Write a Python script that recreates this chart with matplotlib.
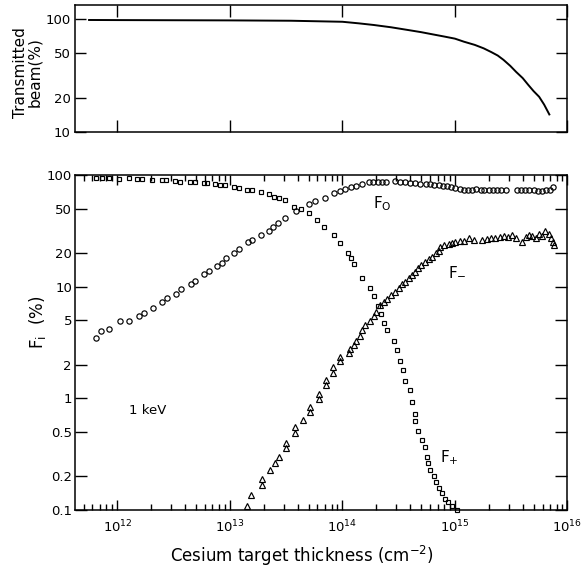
import matplotlib
matplotlib.use("Agg")
import matplotlib.pyplot as plt
from matplotlib import font_manager
from matplotlib.ticker import FixedLocator, FixedFormatter, NullFormatter, NullLocator

# ---------------------------------------------------------------- data
# Transmitted beam (%) versus cesium target thickness (cm^-2)
trans_thickness = [5.6e11, 1e12, 1e13, 3.5e13, 1e14, 1.4e14, 1.9e14, 2.7e14, 3.8e14,
                   5e14, 6.4e14, 8e14, 1e15, 1.2e15, 1.5e15, 1.8e15, 2.1e15, 2.4e15,
                   2.7e15, 3.1e15, 3.5e15, 4e15, 4.5e15, 5e15, 5.6e15, 6.2e15, 6.9e15]
trans_percent = [98, 97.8, 97.2, 96.5, 94.5, 91.5, 88.5, 84.5, 80,
                 76.5, 73, 70, 67, 63, 59, 55, 51, 47.5,
                 43.5, 38.5, 34, 30, 26, 23, 20.5, 17.5, 14.3]

# F0: neutral fraction (circles)
f0_thickness = [6.4e11, 7.1e11, 8.5e11, 1.05e12, 1.28e12, 1.55e12, 1.71e12, 2.08e12,
                2.51e12, 2.77e12, 3.35e12, 3.68e12, 4.52e12, 4.94e12, 5.85e12, 6.48e12,
                7.7e12, 8.5e12, 9.3e12, 1.08e13, 1.2e13, 1.44e13, 1.57e13, 1.87e13,
                2.21e13, 2.4e13, 2.66e13, 3.11e13, 3.9e13, 5.0e13, 5.75e13, 7.06e13,
                8.4e13, 9.5e13, 1.06e14, 1.18e14, 1.31e14, 1.5e14, 1.71e14, 1.88e14,
                2.06e14, 2.25e14, 2.46e14, 2.96e14, 3.28e14, 3.63e14, 4.0e14, 4.45e14,
                4.87e14, 5.58e14, 6.06e14, 6.57e14, 7.18e14, 7.85e14, 8.53e14, 9.25e14,
                1.01e15, 1.1e15, 1.2e15, 1.31e15, 1.42e15, 1.55e15, 1.69e15, 1.83e15,
                2.0e15, 2.19e15, 2.37e15, 2.59e15, 2.83e15, 3.57e15, 3.88e15, 4.23e15,
                4.59e15, 5.0e15, 5.45e15, 5.91e15, 6.42e15, 6.96e15, 7.46e15]
f0_percent = [3.45, 4.0, 4.2, 4.9, 4.97, 5.5, 5.85, 6.5,
              7.25, 7.9, 8.55, 9.5, 10.5, 11.2, 12.9, 13.8,
              15.3, 16.4, 17.9, 19.9, 21.6, 25.3, 26.2, 29,
              31.5, 34, 37, 41, 47.6, 55, 58, 62,
              69, 72, 75, 77.6, 80, 83, 86, 86,
              86, 86, 86, 87.8, 86, 86, 85, 84,
              83.5, 83, 82.5, 81.9, 80.9, 80.2, 79.2, 78.1,
              76.5, 75, 73.8, 72.9, 73.8, 75, 72.9, 72.9,
              72.9, 72.9, 72.9, 72.9, 72.9, 72.9, 73.8, 72.9,
              73.8, 72.9, 72.3, 71.4, 72.9, 73.8, 77.6]

# F+: positive-ion fraction (squares)
fp_thickness = [6.4e11, 7.3e11, 8.4e11, 1.03e12, 1.26e12, 1.5e12, 1.66e12, 2.03e12,
                2.49e12, 2.73e12, 3.28e12, 3.63e12, 4.45e12, 4.94e12, 5.85e12, 6.27e12,
                7.43e12, 8.24e12, 9.13e12, 1.08e13, 1.2e13, 1.42e13, 1.57e13, 1.87e13,
                2.21e13, 2.45e13, 2.71e13, 3.11e13, 3.69e13, 4.24e13, 5.0e13, 5.95e13,
                6.92e13, 8.38e13, 9.46e13, 1.11e14, 1.19e14, 1.28e14, 1.48e14, 1.75e14,
                1.92e14, 2.06e14, 2.22e14, 2.36e14, 2.51e14, 2.9e14, 3.05e14, 3.23e14,
                3.45e14, 3.63e14, 4.02e14, 4.19e14, 4.43e14, 4.46e14, 4.74e14, 5.07e14,
                5.4e14, 5.67e14, 5.81e14, 6.06e14, 6.48e14, 6.85e14, 7.25e14, 7.66e14,
                8.18e14, 8.66e14, 9.37e14, 1.05e15]
fp_percent = [93.4, 93.4, 93.4, 92, 93.4, 92, 92, 90.8,
              90.2, 90.2, 88.4, 87.1, 86, 86, 84.3, 84.3,
              82.5, 81.3, 81.3, 78.6, 76.1, 73.4, 73.4, 70,
              67.2, 63.9, 61.8, 59.7, 52, 49.3, 45.4, 39.5,
              34.0, 29.0, 24.5, 20.2, 17.9, 15.9, 11.9, 9.7,
              8.26, 6.72, 5.7, 4.69, 4.1, 3.25, 2.71, 2.18,
              1.8, 1.43, 1.18, 0.93, 0.73, 0.63, 0.51, 0.427,
              0.363, 0.30, 0.264, 0.229, 0.201, 0.179, 0.159, 0.142,
              0.126, 0.117, 0.109, 0.101]

# F-: negative-ion fraction (triangles)
fm_thickness = [1.42e13, 1.55e13, 1.92e13, 1.92e13, 2.26e13, 2.5e13, 2.71e13, 3.16e13,
                3.16e13, 3.76e13, 3.76e13, 4.44e13, 5.14e13, 5.14e13, 6.22e13, 6.22e13,
                7.11e13, 7.11e13, 8.32e13, 8.32e13, 9.6e13, 9.6e13, 1.14e14, 1.16e14,
                1.26e14, 1.33e14, 1.42e14, 1.5e14, 1.6e14, 1.77e14, 1.9e14, 2.0e14,
                2.15e14, 2.33e14, 2.5e14, 2.71e14, 2.96e14, 3.17e14, 3.39e14, 3.63e14,
                3.88e14, 4.17e14, 4.46e14, 4.71e14, 5.04e14, 5.39e14, 5.85e14, 6.27e14,
                6.85e14, 7.18e14, 7.43e14, 8.07e14, 8.82e14, 9.45e14, 1.01e15, 1.1e15,
                1.2e15, 1.33e15, 1.47e15, 1.75e15, 1.93e15, 2.11e15, 2.29e15, 2.54e15,
                2.75e15, 2.95e15, 3.22e15, 3.52e15, 3.96e15, 4.24e15, 4.53e15, 4.86e15,
                5.2e15, 5.56e15, 5.96e15, 6.37e15, 6.82e15, 7.16e15, 7.46e15, 7.66e15]
fm_percent = [0.108, 0.136, 0.168, 0.189, 0.226, 0.266, 0.30, 0.357,
              0.40, 0.493, 0.555, 0.641, 0.76, 0.837, 0.98, 1.09,
              1.32, 1.45, 1.68, 1.89, 2.16, 2.35, 2.55, 2.77,
              3.0, 3.23, 3.62, 4.1, 4.54, 4.96, 5.47, 5.97,
              6.86, 7.3, 7.76, 8.43, 9.02, 9.68, 10.5, 11.1,
              11.9, 12.7, 13.6, 14.6, 15.6, 16.7, 17.6, 18.6,
              19.9, 21.0, 22.6, 23.5, 24.1, 24.6, 25.0, 25.5,
              25.8, 27.3, 26.4, 26.4, 26.9, 27.3, 27.3, 27.7,
              28.3, 27.7, 29.2, 27.3, 25.1, 27.7, 29.2, 28.3,
              27.3, 29.6, 28.3, 31.7, 29.6, 27.3, 25.1, 23.5]

x_decades = [1e12, 1e13, 1e14, 1e15, 1e16]
x_decade_labels = ["12", "13", "14", "15", "16"]
fi_ticks = [0.1, 0.2, 0.5, 1, 2, 5, 10, 20, 50, 100]
fi_tick_labels = ["0.1", "0.2", "0.5", "1", "2", "5", "10", "20", "50", "100"]
tr_ticks = [10, 20, 50, 100]
tr_tick_labels = ["10", "20", "50", "100"]

# ---------------------------------------------------------------- style
available = {f.name for f in font_manager.fontManager.ttflist}
narrow = "Liberation Sans Narrow" if "Liberation Sans Narrow" in available else "DejaVu Sans"
plt.rcParams["font.family"] = ["DejaVu Sans"]
plt.rcParams["axes.linewidth"] = 1.1

X_MIN, X_MAX = 4.24e11, 1e16

fig = plt.figure(figsize=(5.81, 5.68), dpi=100)
ax_top = fig.add_axes([0.1299, 0.7676, 0.8468, 0.2236])
ax = fig.add_axes([0.1299, 0.1021, 0.8468, 0.5898])

# ---------------------------------------------------------------- top panel
ax_top.plot(trans_thickness, trans_percent, color="black", lw=1.4)
ax_top.set_xscale("log")
ax_top.set_yscale("log")
ax_top.set_xlim(X_MIN, X_MAX)
ax_top.set_ylim(10, 133)
ax_top.xaxis.set_major_locator(FixedLocator(x_decades))
ax_top.xaxis.set_major_formatter(NullFormatter())
ax_top.xaxis.set_minor_locator(NullLocator())
ax_top.yaxis.set_major_locator(FixedLocator(tr_ticks))
ax_top.yaxis.set_major_formatter(FixedFormatter(tr_tick_labels))
ax_top.yaxis.set_minor_locator(NullLocator())
ax_top.tick_params(axis="both", which="major", direction="in", top=True, right=True,
                   width=1.0, color="black")
ax_top.tick_params(axis="x", length=8.6)
ax_top.tick_params(axis="y", length=8.0, pad=3.5, labelsize=9.5)
for lab in ax_top.get_yticklabels():
    lab.set_fontfamily(narrow)
fig.text(0.048, 0.873, "Transmitted\nbeam(%)", rotation=90, ha="center", va="center",
         fontsize=11, linespacing=0.95, multialignment="center")

# ---------------------------------------------------------------- bottom panel
mk = dict(linestyle="none", mfc="none", mec="black", mew=0.85, clip_on=False)
ax.plot(f0_thickness, f0_percent, marker="o", ms=3.8, **mk)
ax.plot(fp_thickness, fp_percent, marker="s", ms=3.5, **mk)
ax.plot(fm_thickness, fm_percent, marker="^", ms=4.6, **mk)

ax.set_xscale("log")
ax.set_yscale("log")
ax.set_xlim(X_MIN, X_MAX)
ax.set_ylim(0.1, 100)
ax.xaxis.set_major_locator(FixedLocator(x_decades))
ax.xaxis.set_major_formatter(FixedFormatter(
    [r"$\mathregular{10^{%s}}$" % e for e in x_decade_labels]))
ax.yaxis.set_major_locator(FixedLocator(fi_ticks))
ax.yaxis.set_major_formatter(FixedFormatter(fi_tick_labels))
ax.yaxis.set_minor_locator(NullLocator())
ax.tick_params(axis="both", which="both", direction="in", top=True, right=True,
               width=1.0, color="black")
ax.tick_params(axis="x", which="major", length=7.2, pad=6.5, labelsize=9.5)
ax.tick_params(axis="x", which="minor", length=4.3)
ax.tick_params(axis="y", which="major", length=8.6, pad=2.5, labelsize=9.5)
for lab in ax.get_yticklabels() + ax.get_xticklabels():
    lab.set_fontfamily(narrow)

ax.text(0.605, 0.913, r"F$_\mathregular{O}$", transform=ax.transAxes, fontsize=11,
        ha="left", va="center")
ax.text(0.758, 0.713, r"F$_{-}$", transform=ax.transAxes, fontsize=11,
        ha="left", va="center")
ax.text(0.740, 0.155, r"F$_{+}$", transform=ax.transAxes, fontsize=11,
        ha="left", va="center")
ax.text(0.108, 0.296, "1 keV", transform=ax.transAxes, fontsize=9.5,
        ha="left", va="center")

fig.text(0.0637, 0.433, r"F$_\mathregular{i}$  (%)", rotation=90, ha="center",
         va="center", fontsize=12)
fig.text(0.52, 0.021, r"Cesium target thickness (cm$^{-2}$)", ha="center",
         va="center", fontsize=12)

fig.savefig("out.png", dpi=100)
